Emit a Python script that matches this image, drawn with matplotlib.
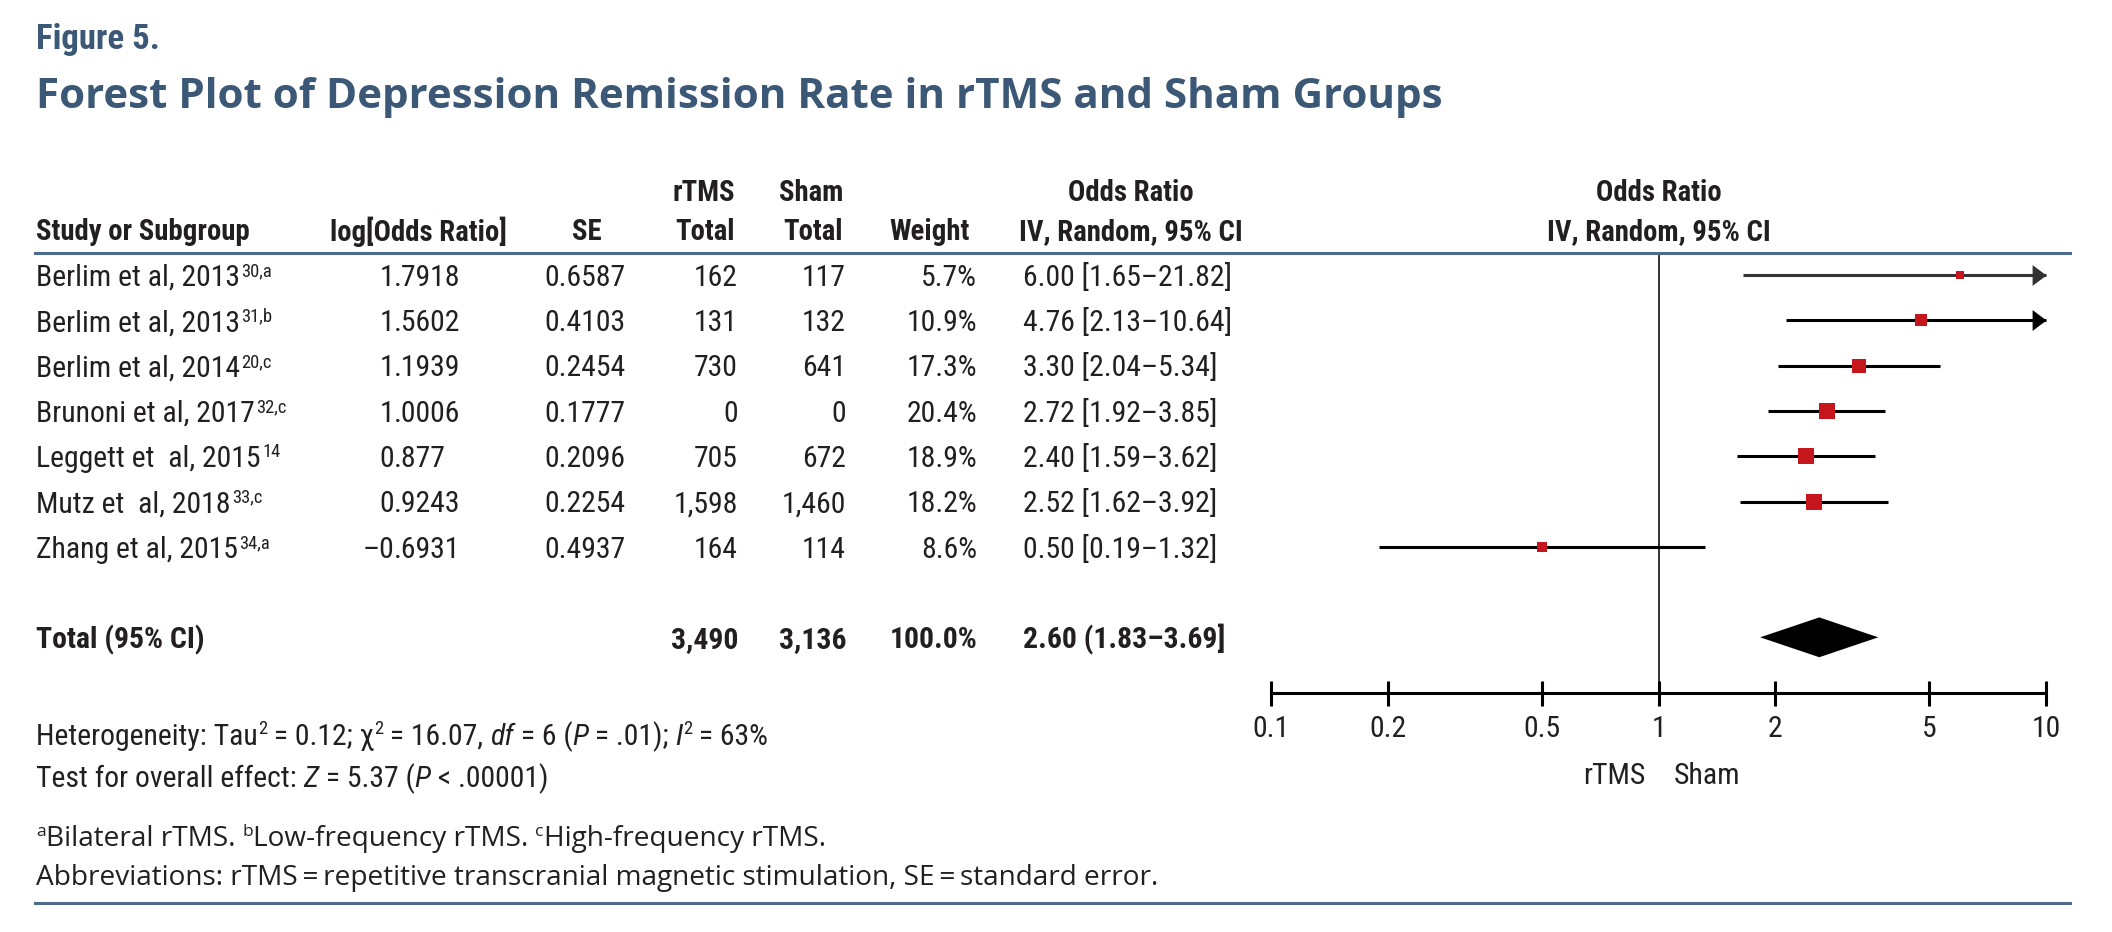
"""
Forest plot of depression remission rate, rTMS vs sham (Figure 5)
"""
import math
import matplotlib
matplotlib.use("Agg")
import matplotlib.pyplot as plt
import matplotlib.transforms as mtrans
import matplotlib.font_manager as fm
from matplotlib.lines import Line2D

# ---- data ----
studies = ["Berlim et al, 2013", "Berlim et al, 2013", "Berlim et al, 2014",
           "Brunoni et al, 2017", "Leggett et  al, 2015", "Mutz et  al, 2018",
           "Zhang et al, 2015"]
refs = ["30,a", "31,b", "20,c", "32,c", "14", "33,c", "34,a"]
log_or = ["1.7918", "1.5602", "1.1939", "1.0006", "0.877", "0.9243", "\u20130.6931"]
se = ["0.6587", "0.4103", "0.2454", "0.1777", "0.2096", "0.2254", "0.4937"]
rtms_total = ["162", "131", "730", "0", "705", "1,598", "164"]
sham_total = ["117", "132", "641", "0", "672", "1,460", "114"]
weight = [5.7, 10.9, 17.3, 20.4, 18.9, 18.2, 8.6]
odds = [6.00, 4.76, 3.30, 2.72, 2.40, 2.52, 0.50]
ci_low = [1.65, 2.13, 2.04, 1.92, 1.59, 1.62, 0.19]
ci_high = [21.82, 10.64, 5.34, 3.85, 3.62, 3.92, 1.32]

total_rtms = "3,490"
total_sham = "3,136"
total_weight = "100.0%"
total_or, total_low, total_high = 2.60, 1.83, 3.69

x_ticks = [0.1, 0.2, 0.5, 1, 2, 5, 10]
x_labels = ["0.1", "0.2", "0.5", "1", "2", "5", "10"]

# ---- pick a narrow face if one is installed ----
ttf = fm.fontManager.ttflist


def has(name, stretch=None):
    return any(f.name == name and (stretch is None or f.stretch == stretch) for f in ttf)


if has("Liberation Sans Narrow"):
    NARROW = dict(family=["Liberation Sans Narrow", "DejaVu Sans"])
elif has("Roboto Condensed"):
    NARROW = dict(family=["Roboto Condensed", "DejaVu Sans"])
elif has("DejaVu Sans", "condensed"):
    NARROW = dict(family=["DejaVu Sans"], stretch="condensed")
else:
    NARROW = dict(family=["Roboto", "DejaVu Sans"])
WIDE = dict(family=["Open Sans", "DejaVu Sans"])

TXT = "#231f20"
BLUE = "#3b5876"
RULE = "#4d6b8a"
RED = "#c4161c"
PX = 100 / 72  # pixels per point

W, H = 2112, 932
fig = plt.figure(figsize=(W / 100, H / 100), dpi=100)
R = fig.canvas.get_renderer()


def fx(x):
    return x / W


def fy(y):
    return 1 - y / H


def width(t):
    return t.get_window_extent(R).width


def fit(t, target):
    t.set_fontsize(t.get_fontsize() * target / width(t))
    return t.get_fontsize()


# sizes fitted to widths measured on the reference
probe = fig.text(0, 0, "Berlim et al, 2013", fontsize=20, **NARROW)
FS = fit(probe, 204)
probe.remove()
probe = fig.text(0, 0, "Study or Subgroup", fontsize=20, fontweight="bold", **NARROW)
HS = fit(probe, 213)
probe.remove()

# forest panel: log axis 0.1..10
ax = fig.add_axes([fx(1271), fy(693), 775 / W, 440 / H])
ax.set_xscale("log")
ax.set_xlim(0.1, 10)
ax.set_ylim(9.23, -0.49)
for s in ["left", "right", "top"]:
    ax.spines[s].set_visible(False)
ax.spines["bottom"].set_linewidth(2.2)
ax.set_yticks([])
ax.set_xticks(x_ticks)
ax.set_xticklabels(x_labels)
ax.minorticks_off()
ax.tick_params(axis="x", direction="inout", length=18, width=2.2, pad=7,
               labelsize=FS, labelcolor=TXT)
for lab in ax.get_xticklabels():
    lab.set_family(NARROW["family"])
    if "stretch" in NARROW:
        lab.set_stretch(NARROW["stretch"])
ax.patch.set_alpha(0)

ax.axvline(1, color="#333333", lw=1.4, zorder=1)

rows = list(range(len(studies)))
total_y = 8

for i in rows:
    hi = min(ci_high[i], 10)
    col = "#333333" if i == 0 else "black"
    ax.plot([ci_low[i], hi], [i, i], color=col, lw=2.2, solid_capstyle="butt",
            clip_on=False, zorder=2)
    if ci_high[i] > 10:
        ax.plot(10, i, marker=[(0, 0), (-1, 0.75), (-1, -0.75), (0, 0)],
                ms=20, color=col, mew=0, clip_on=False, zorder=3)
    side = 3.6 * math.sqrt(weight[i]) / PX
    ax.plot(odds[i], i, marker="s", ms=side, color=RED, mew=0, zorder=4)

h = 0.44
ax.fill([total_low, total_or, total_high, total_or],
        [total_y, total_y - h, total_y, total_y + h], color="black", lw=0, zorder=4)

# labels under the axis and above the panel
tr = mtrans.blended_transform_factory(ax.transData, fig.transFigure)
ax.text(1, fy(776), "rTMS", transform=mtrans.offset_copy(tr, fig, x=-13, units="dots"),
        ha="right", va="center", fontsize=FS, color=TXT, **NARROW)
ax.text(1, fy(776), "Sham", transform=mtrans.offset_copy(tr, fig, x=15, units="dots"),
        ha="left", va="center", fontsize=FS, color=TXT, **NARROW)
ax.text(1, fy(193), "Odds Ratio", transform=tr, ha="center", va="center",
        fontsize=HS, fontweight="bold", color=TXT, **NARROW)
ax.text(1, fy(232), "IV, Random, 95% CI", transform=tr, ha="center", va="center",
        fontsize=HS, fontweight="bold", color=TXT, **NARROW)

# ---- titles ----
t = fig.text(fx(36), fy(40), "Figure 5.", fontsize=25, color=BLUE, va="center",
             fontweight="bold", **NARROW)
fit(t, 124)
t = fig.text(fx(36), fy(98), "Forest Plot of Depression Remission Rate in rTMS and Sham Groups",
             fontsize=27, color=BLUE, va="center", fontweight="bold", **WIDE)
fit(t, 1405)

# ---- table headers ----
hdr = dict(fontsize=HS, fontweight="bold", color=TXT, va="center", **NARROW)
fig.text(fx(36), fy(232), "Study or Subgroup", ha="left", **hdr)
fig.text(fx(418), fy(232), "log[Odds Ratio]", ha="center", **hdr)
fig.text(fx(587), fy(232), "SE", ha="center", **hdr)
fig.text(fx(735), fy(193), "rTMS", ha="right", **hdr)
fig.text(fx(735), fy(232), "Total", ha="right", **hdr)
fig.text(fx(843), fy(193), "Sham", ha="right", **hdr)
fig.text(fx(843), fy(232), "Total", ha="right", **hdr)
fig.text(fx(970), fy(232), "Weight", ha="right", **hdr)
fig.text(fx(1131), fy(193), "Odds Ratio", ha="center", **hdr)
fig.text(fx(1131), fy(232), "IV, Random, 95% CI", ha="center", **hdr)

fig.add_artist(Line2D([fx(35), fx(2070)], [fy(253), fy(253)], color=RULE, lw=2.2))
fig.add_artist(Line2D([fx(35), fx(2070)], [fy(903), fy(903)], color=RULE, lw=2.2))

# ---- table rows (baseline placed half a cap height below the row centre) ----
rt = mtrans.blended_transform_factory(fig.transFigure, ax.transData)
rt_base = mtrans.offset_copy(rt, fig, y=-0.36 * FS * PX, units="dots")
rt_sup = mtrans.offset_copy(rt, fig, y=-0.04 * FS * PX, units="dots")
body = dict(fontsize=FS, color=TXT, va="baseline", transform=rt_base, clip_on=False,
            **NARROW)
sup_size = FS * 0.62
for i in rows:
    lab = ax.text(fx(36), i, studies[i], ha="left", **body)
    x_end = fx(36) + width(lab) / W + 1.5 / W
    ax.text(x_end, i, refs[i], ha="left", va="baseline", fontsize=sup_size, color=TXT,
            transform=rt_sup, clip_on=False, **NARROW)
    whole, frac = log_or[i].split(".")
    ax.text(fx(394), i, whole, ha="right", **body)
    ax.text(fx(394), i, "." + frac, ha="left", **body)
    ax.text(fx(585), i, se[i], ha="center", **body)
    ax.text(fx(738), i, rtms_total[i], ha="right", **body)
    ax.text(fx(846), i, sham_total[i], ha="right", **body)
    ax.text(fx(977), i, f"{weight[i]:.1f}%", ha="right", **body)
    ax.text(fx(1023), i, f"{odds[i]:.2f} [{ci_low[i]:.2f}\u2013{ci_high[i]:.2f}]",
            ha="left", **body)

bold = dict(body, fontweight="bold")
ax.text(fx(36), total_y, "Total (95% CI)", ha="left", **bold)
ax.text(fx(738), total_y, total_rtms, ha="right", **bold)
ax.text(fx(846), total_y, total_sham, ha="right", **bold)
ax.text(fx(977), total_y, total_weight, ha="right", **bold)
ax.text(fx(1023), total_y, f"{total_or:.2f} ({total_low:.2f}\u2013{total_high:.2f}]",
        ha="left", **bold)


# ---- footer: runs of plain / italic / superscript text on one baseline ----
def advance(s, size, font, style):
    a = fig.text(0, 0, s + "|", fontsize=size, style=style, **font)
    b = fig.text(0, 0, "|", fontsize=size, style=style, **font)
    w = width(a) - width(b)
    a.remove()
    b.remove()
    return w


def runs(x, y, parts, size, font):
    cur = x
    for s, kind in parts:
        sz = size * 0.62 if kind == "sup" else size
        st = "italic" if kind == "it" else "normal"
        yy = y - 0.36 * size * PX if kind == "sup" else y
        fig.text(fx(cur), fy(yy), s, fontsize=sz, style=st, va="baseline",
                 color=TXT, **font)
        cur += advance(s, sz, font, st)


base = 734 + 0.36 * FS * PX
runs(36, base, [("Heterogeneity: Tau", ""), ("2", "sup"), (" = 0.12; \u03c7", ""),
                ("2", "sup"), (" = 16.07, ", ""), ("df", "it"), (" = 6 (", ""),
                ("P", "it"), (" = .01); ", ""), ("I", "it"), ("2", "sup"),
                (" = 63%", "")], FS, NARROW)
base = 776 + 0.36 * FS * PX
runs(36, base, [("Test for overall effect: ", ""), ("Z", "it"), (" = 5.37 (", ""),
                ("P", "it"), (" < .00001)", "")], FS, NARROW)

probe = fig.text(0, 0, "Abbreviations: rTMS\u2009=\u2009repetitive transcranial magnetic "
                 "stimulation, SE\u2009=\u2009standard error.", fontsize=18, **WIDE)
NS = fit(probe, 1125)
probe.remove()
base = 836 + 0.36 * NS * PX
runs(36, base, [("a", "sup"), ("Bilateral rTMS. ", ""), ("b", "sup"),
                ("Low-frequency rTMS. ", ""), ("c", "sup"),
                ("High-frequency rTMS.", "")], NS, WIDE)
fig.text(fx(36), fy(878),
         "Abbreviations: rTMS\u2009=\u2009repetitive transcranial magnetic stimulation, "
         "SE\u2009=\u2009standard error.",
         fontsize=NS, color=TXT, va="center", **WIDE)

fig.savefig("out.png", dpi=100)
